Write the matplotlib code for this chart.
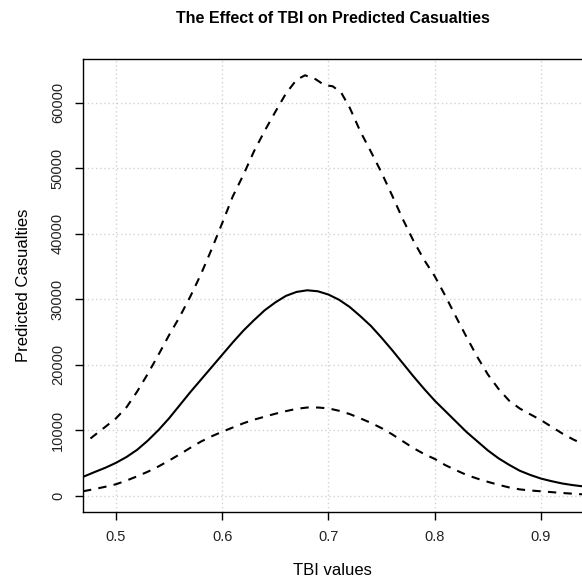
import matplotlib
matplotlib.use("Agg")
import matplotlib.pyplot as plt

plt.rcParams["font.family"] = ["Liberation Sans", "DejaVu Sans"]

# fitted curve
fit_x = [0.469, 0.48, 0.49, 0.5, 0.51, 0.52, 0.53, 0.54, 0.55, 0.56, 0.57, 0.58,
         0.59, 0.60, 0.61, 0.62, 0.63, 0.64, 0.65, 0.66, 0.67, 0.68, 0.69, 0.70,
         0.71, 0.72, 0.73, 0.74, 0.75, 0.76, 0.77, 0.78, 0.79, 0.80, 0.81, 0.82,
         0.83, 0.84, 0.85, 0.86, 0.87, 0.88, 0.89, 0.90, 0.91, 0.92, 0.93, 0.9386]
fit_y = [2860, 3600, 4250, 5000, 5900, 7000, 8400, 10000, 11800, 13800, 15800, 17700,
         19600, 21500, 23400, 25200, 26800, 28300, 29500, 30500, 31100, 31350, 31200, 30700,
         29900, 28800, 27400, 25900, 24100, 22200, 20200, 18200, 16300, 14500, 12900, 11300,
         9700, 8300, 6900, 5700, 4700, 3800, 3150, 2600, 2200, 1850, 1600, 1430]

# upper band
upper_x = [0.476, 0.49, 0.5, 0.51, 0.52, 0.53, 0.54, 0.55, 0.56, 0.57, 0.58, 0.59,
           0.60, 0.61, 0.62, 0.63, 0.64, 0.65, 0.66, 0.67, 0.678, 0.688, 0.696, 0.704,
           0.712, 0.72, 0.73, 0.74, 0.75, 0.76, 0.77, 0.78, 0.79, 0.80, 0.81, 0.82,
           0.83, 0.84, 0.85, 0.86, 0.87, 0.88, 0.89, 0.90, 0.91, 0.92, 0.93, 0.9386]
upper_y = [8720, 10500, 11790, 13500, 15900, 18600, 21500, 24500, 27300, 30400, 33800, 37600,
           41600, 45700, 49000, 52600, 55700, 58600, 61400, 63500, 64180, 63570, 62700, 62500,
           61530, 59230, 55600, 52500, 49300, 45800, 42200, 38900, 36000, 33500, 30500, 27300,
           24200, 21200, 18500, 16300, 14500, 13300, 12400, 11530, 10500, 9490, 8600, 7950]

# lower band
lower_x = [0.469, 0.48, 0.49, 0.5, 0.51, 0.52, 0.53, 0.54, 0.55, 0.56, 0.57, 0.58,
           0.59, 0.60, 0.61, 0.62, 0.63, 0.64, 0.65, 0.66, 0.67, 0.68, 0.69, 0.70,
           0.71, 0.72, 0.73, 0.74, 0.75, 0.76, 0.77, 0.78, 0.79, 0.80, 0.81, 0.82,
           0.83, 0.84, 0.85, 0.86, 0.87, 0.88, 0.89, 0.90, 0.92, 0.9386]
lower_y = [660, 1000, 1350, 1730, 2300, 2950, 3650, 4450, 5350, 6300, 7300, 8250,
           9050, 9750, 10400, 11050, 11600, 12050, 12500, 12900, 13250, 13450, 13450, 13320,
           12950, 12450, 11800, 11100, 10300, 9350, 8300, 7250, 6350, 5600, 4650, 3880,
           3150, 2600, 2100, 1650, 1250, 950, 780, 660, 400, 200]

x_ticks = [0.5, 0.6, 0.7, 0.8, 0.9]
y_ticks = [0, 10000, 20000, 30000, 40000, 50000, 60000]

fig = plt.figure(figsize=(5.82, 5.81), dpi=100)
ax = fig.add_axes([0.1426, 0.1188, 0.8574, 0.7797])

ax.plot(fit_x, fit_y, color="black", lw=1.5)
ax.plot(upper_x, upper_y, color="black", lw=1.5, dashes=(4, 3.5))
ax.plot(lower_x, lower_y, color="black", lw=1.5, dashes=(4, 3.5))

for xv in x_ticks:
    ax.axvline(xv, color="lightgray", lw=1.0, ls=(0, (1, 2)), zorder=0)
for yv in y_ticks:
    ax.axhline(yv, color="lightgray", lw=1.0, ls=(0, (1, 2)), zorder=0)

ax.set_xlim(0.469, 0.9386)
ax.set_ylim(-2500, 66670)
ax.set_xticks(x_ticks)
ax.set_xticklabels([f"{v:.1f}" for v in x_ticks])
ax.set_yticks(y_ticks)
ax.set_yticklabels([str(v) for v in y_ticks], rotation=90, va="center")

ax.spines["right"].set_visible(False)
for side in ["left", "top", "bottom"]:
    ax.spines[side].set_linewidth(1.0)
ax.tick_params(direction="out", length=6, width=1.0, labelsize=10.5, pad=7,
               colors="black")
for lab in ax.get_xticklabels() + ax.get_yticklabels():
    lab.set_color("#222222")

ax.set_xlabel("TBI values", fontsize=12, labelpad=14)
ax.set_ylabel("Predicted Casualties", fontsize=12, labelpad=14)
ax.set_title("The Effect of TBI on Predicted Casualties", fontsize=11.5,
             fontweight="bold", pad=26)

fig.savefig("out.png", dpi=100)
